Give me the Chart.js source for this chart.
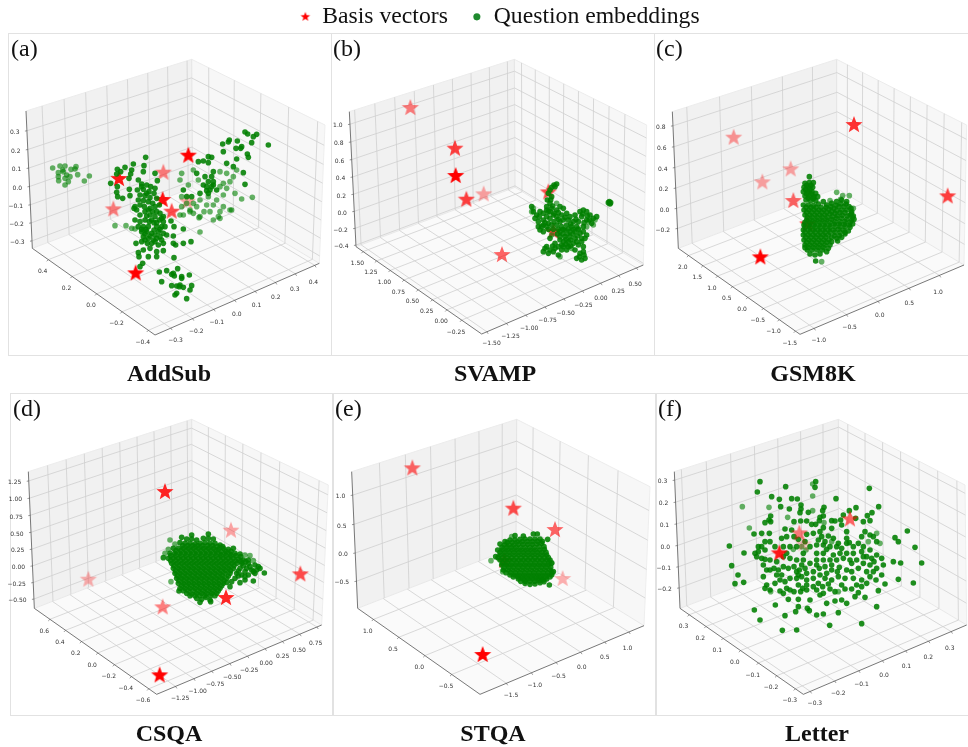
<!DOCTYPE html>
<html>
<head>
<meta charset="utf-8">
<script src="https://cdn.jsdelivr.net/npm/chart.js@4"></script>
<style>
html, body { margin: 0; padding: 0; background: #fff; }
#page { position: relative; width: 968px; height: 747px; overflow: hidden; }
canvas { position: absolute; }
canvas.plot { filter: blur(0.3px); }
.frame { position: absolute; border: 1.5px solid #e2e2e2; box-sizing: border-box; }
.tag { position: absolute; font: 24px "Liberation Serif", serif; color: #111; line-height: 24px; }
.name { position: absolute; font: bold 24px "Liberation Serif", serif; color: #111; transform: translateX(-50%); line-height: 26px; white-space: nowrap; }
</style>
</head>
<body>
<div id="page"></div>
<script>
const starsA = [[565,377],[490,428],[357,447],[488,510],[340,538],[515,545],[562,515],[407,730]];
const starAlphaA = [1,.5,.9,.95,.5,.7,.35,1];
const starsB = [[241,234],[375,356],[377,438],[409,509],[461,493],[655,487],[670,605],[516,675]];
const starAlphaB = [.5,.75,1,.75,.35,.7,.75,.6];
const starsC = [[251,323],[337,457],[422,418],[430,513],[612,285],[893,499],[473,583],[331,682]];
const starAlphaC = [.4,.35,.35,.6,.8,.75,.8,1];
const starsD = [[495,306],[693,422],[901,553],[265,569],[488,652],[678,624],[479,856]];
const starAlphaD = [.85,.35,.7,.3,.5,.85,1];
const starsE = [[247,235],[550,356],[675,420],[698,567],[523,513],[458,795]];
const starAlphaE = [.6,.7,.6,.3,.75,1];
const starsF = [[600,388],[448,430],[460,463],[388,490]];
const starAlphaF = [.6,.5,.2,.9];

const darkA = [[478,726],[500,722],[533,716],[515,733],[523,738],[545,740],[568,735],[485,755],[515,767],[530,768],[540,765],[550,772],[575,767],[570,780],[530,790],[525,795],[560,806],[545,745],[520,730],[538,770],
[437,382],[400,402],[432,407],[375,412],[352,418],[362,425],[395,420],[392,432],[387,445],[430,425],[465,430],[472,452],[350,432],[332,460],[352,470],[350,487],[353,500],[388,478],[390,497],[368,505],[415,450],[425,462],[440,465],[452,470],[465,475],[430,478],[412,480],[447,485],[462,490],[420,495],[435,497],[450,503],[470,505],[415,510],[430,512],[445,515],[458,520],[402,535],[410,540],[420,525],[433,530],[450,535],[465,530],[478,525],[405,570],[420,555],[435,545],[450,555],[465,560],[480,550],[490,560],[420,575],[435,570],[448,575],[462,578],[478,570],[490,575],[415,590],[430,590],[445,590],[470,590],[485,590],[495,590],[425,605],[440,605],[455,610],[475,605],[490,610],[430,620],[445,625],[460,630],[480,620],[500,615],[520,618],[408,640],[425,635],[442,640],[465,635],[490,640],[520,640],[430,660],[450,655],[470,665],[490,662],[415,668],[417,680],[445,680],[470,680],[522,683],[428,700],[420,710],[550,640],[573,635],[527,645],[513,573],[550,597],[522,590],
[425,470],[440,490],[405,530],[445,540],[458,545],[470,545],[440,558],[455,570],[470,578],[485,565],[425,598],[438,598],[462,600],[480,598],[435,612],[465,615],[450,618],[470,625],[485,630],[435,630],[455,640],[475,645],
[735,306],[743,312],[770,313],[760,320],[688,330],[685,336],[712,333],[668,342],[805,345],[725,350],[755,338],[708,355],[722,355],[670,365],[742,372],[745,382],[710,387],[625,380],[635,382],[595,395],[610,393],[625,398],[590,430],[640,425],[615,440],[635,440],[610,465],[625,455],[640,465],[630,480],[650,480],[625,490],[735,463],[730,428],[700,410],[680,400],[600,490],[575,500],[550,480],[560,500],[620,470],[635,470],[620,482],[640,455]];
const fadedA = [[158,414],[180,408],[195,408],[228,410],[213,418],[175,428],[190,425],[210,440],[175,440],[233,434],[195,445],[176,452],[205,455],[195,465],[268,438],[253,453],[188,420],[225,417],[200,435],
[545,430],[580,420],[595,450],[540,450],[565,465],[660,425],[680,430],[700,440],[710,420],[690,455],[670,460],[660,470],[680,475],[705,490],[670,495],[650,510],[625,500],[640,525],[620,525],[670,530],[600,510],[590,530],[580,520],[725,507],[757,502],[690,540],[655,560],[640,570],[600,560],[630,545],[560,520],[545,500],[545,530],[570,540],[550,555],[600,606],[345,587],[378,587],[395,595],[405,597],[540,555],[570,545],[580,550],[597,563],[660,565],[695,540],[660,545],[612,545]];

const darkB = [[838,515],[840,522],[835,518],[842,518],[680,462],[672,465],[665,472],[675,470],[660,480],[655,490],[665,500],[652,510],[660,520],[650,530],[665,535],[660,545],[680,540],[700,535],[690,530],
[605,530],[610,545],[620,555],[630,545],[640,550],[615,565],[625,575],[640,570],[650,560],[660,565],[670,555],[680,560],[695,555],[710,550],[720,560],[735,555],[750,545],[760,540],[770,545],[780,555],[790,565],[800,560],[770,570],[785,580],[755,560],[745,575],[760,590],
[690,575],[700,570],[715,570],[730,575],[680,585],[695,590],[710,585],[725,590],[740,590],[650,590],[665,585],[625,590],[635,590],[640,605],[690,605],[705,600],[720,605],[735,605],[750,610],[770,615],[765,625],[755,635],
[690,620],[705,620],[720,620],[735,625],[700,635],[715,635],[730,640],[675,640],[660,625],[645,655],[660,660],[675,655],[640,665],[655,670],[685,675],[700,650],[715,650],[710,660],[695,660],[745,645],[760,650],[750,670],[740,685],[755,690],[765,685],[760,665],[735,660],
[685,568],[705,562],[722,582],[738,568],[672,575],[685,598],[700,598],[715,597],[730,598],[745,597],[682,612],[698,612],[712,612],[728,612],[742,618],[690,630],[708,628],[722,630],[740,635],[695,645],[708,643],[722,648],[685,650],[670,665],[668,648],[650,650],[655,580],[640,585],[628,560],[645,578],[630,600],[655,545],[672,550],[685,548],[758,552],[772,558],[762,578],[778,570],[755,625],[760,605],[748,680],[762,675],[650,540],[662,510],[668,528],[655,598],[670,598]];
const fadedB = [[775,575],[795,570],[745,600],[690,680],[665,615],[610,535],[770,590],[725,655],[680,520],[605,545],[790,585]];

const darkC = [[478,440],[465,460],[478,458],[490,458],[462,472],[475,472],[488,472],[460,485],[473,485],[486,485],[497,490],[465,498],[478,498],[492,500],[503,500],[468,510],[482,512],[497,512],
[460,525],[475,525],[490,527],[505,522],[520,515],[530,525],[545,520],[560,515],[575,510],[590,515],
[462,540],[477,540],[492,540],[507,540],[522,540],[537,538],[552,535],[567,530],[582,530],[597,530],[605,545],
[465,555],[480,555],[495,555],[510,555],[525,555],[540,552],[555,550],[570,548],[585,548],[600,555],[610,558],
[470,570],[485,570],[500,570],[515,570],[530,570],[545,568],[560,565],[575,565],[590,568],[605,570],[612,568],
[462,585],[478,585],[493,585],[508,585],[523,585],[538,585],[553,582],[568,582],[583,583],[598,585],[608,582],
[460,600],[475,600],[490,600],[505,600],[520,600],[535,600],[550,600],[565,598],[580,600],[595,603],
[460,615],[475,615],[490,615],[505,615],[520,615],[535,615],[553,617],[568,617],[585,612],
[462,630],[477,630],[492,630],[507,630],[522,630],[537,630],[563,633],
[465,645],[480,645],[495,645],[510,645],[525,645],[540,645],
[472,660],[487,660],[502,660],[517,660],[530,665],[480,672],[495,675],[510,672],[497,693],[465,653],
[470,466],[483,466],[467,479],[480,479],[470,492],[485,492],[475,505],[490,506],
[468,532],[483,532],[498,532],[513,532],[528,532],[543,530],[558,526],[573,522],[588,522],[603,535],
[470,547],[485,547],[500,547],[515,547],[530,547],[545,545],[560,542],[575,540],[590,540],[604,550],
[472,562],[487,562],[502,562],[517,562],[532,562],[547,560],[562,558],[577,556],[592,558],[607,562],
[465,577],[480,577],[495,577],[510,577],[525,577],[540,577],[555,575],[570,575],[585,575],[600,577],
[465,592],[480,592],[495,592],[510,592],[525,592],[540,592],[555,590],[570,590],[585,590],[600,592],
[465,607],[480,607],[495,607],[510,607],[525,607],[540,607],[555,607],[570,607],[585,607],
[467,622],[482,622],[497,622],[512,622],[527,622],[545,622],[560,625],[575,622],
[470,637],[485,637],[500,637],[515,637],[530,637],[545,635],
[475,652],[490,652],[505,652],[520,652],[535,655]];
const fadedC = [[515,695],[578,497],[598,497],[560,487],[572,508],[540,512],[610,535]];

const darkD = [[575,435],[625,432],[545,442],[560,447],[575,447],[590,450],[610,445],[625,445],[640,447],
[540,458],[555,460],[570,460],[585,462],[600,460],[615,458],[630,460],[645,460],[660,465],
[520,475],[535,475],[550,475],[565,475],[580,475],[595,475],[610,475],[625,475],[640,475],[655,478],[670,475],[685,478],[700,475],
[490,503],[510,490],[525,490],[540,490],[555,490],[570,490],[585,490],[600,490],[615,490],[630,490],[645,490],[660,492],[675,490],[690,492],[705,490],[720,492],
[505,505],[520,505],[535,505],[550,505],[565,505],[580,505],[595,505],[610,505],[625,505],[640,505],[655,505],[670,505],[685,505],[700,505],[715,507],[730,510],[745,510],
[515,520],[530,520],[545,520],[560,520],[575,520],[590,520],[605,520],[620,520],[635,520],[650,520],[665,520],[680,520],[695,520],[710,520],[725,520],[745,520],[765,525],[775,530],
[520,535],[535,535],[550,535],[565,535],[580,535],[595,535],[610,535],[625,535],[640,535],[655,535],[670,535],[685,535],[700,535],[720,535],[740,535],[755,540],[770,540],[780,535],
[525,550],[540,550],[555,550],[570,550],[585,550],[600,550],[615,550],[630,550],[645,550],[660,550],[675,550],[690,550],[710,550],[725,555],[745,555],[765,550],[793,549],
[530,565],[545,565],[560,565],[575,565],[590,565],[605,565],[620,565],[635,565],[650,565],[665,565],[680,565],[705,565],[720,578],[735,570],[760,573],
[535,580],[550,580],[565,580],[580,580],[595,580],[610,580],[625,580],[640,580],[655,580],[670,580],[690,590],[680,577],
[540,595],[555,595],[570,595],[585,595],[600,595],[615,595],[630,595],[645,595],[660,595],
[560,610],[575,612],[590,610],[605,610],[620,610],[635,610],[650,610],[537,603],[590,625],[605,628],[630,630],[618,622],[600,637],[632,635],
[548,467],[563,467],[578,467],[593,467],[608,467],[623,467],[638,467],[653,470],[668,470],
[528,482],[543,482],[558,482],[573,482],[588,482],[603,482],[618,482],[633,482],[648,482],[663,484],[678,484],[693,484],
[512,497],[527,497],[542,497],[557,497],[572,497],[587,497],[602,497],[617,497],[632,497],[647,497],[662,497],[677,497],[692,497],[707,497],[722,500],
[512,512],[527,512],[542,512],[557,512],[572,512],[587,512],[602,512],[617,512],[632,512],[647,512],[662,512],[677,512],[692,512],[707,513],[722,514],[737,515],
[522,527],[537,527],[552,527],[567,527],[582,527],[597,527],[612,527],[627,527],[642,527],[657,527],[672,527],[687,527],[702,527],[730,527],[750,530],
[527,542],[542,542],[557,542],[572,542],[587,542],[602,542],[617,542],[632,542],[647,542],[662,542],[677,542],[692,542],[715,543],[735,545],[760,545],
[532,557],[547,557],[562,557],[577,557],[592,557],[607,557],[622,557],[637,557],[652,557],[667,557],[685,558],[715,558],[735,560],
[537,572],[552,572],[567,572],[582,572],[597,572],[612,572],[627,572],[642,572],[657,572],[672,572],[695,575],
[545,587],[560,587],[575,587],[590,587],[605,587],[620,587],[635,587],[650,587],[665,587],
[550,602],[565,602],[580,602],[595,602],[610,602],[625,602],[640,602],[655,602],
[570,617],[585,617],[600,617],[615,617],[632,617],[645,617]];
const fadedD = [[510,450],[525,462],[505,478],[735,495],[750,497],[760,512],[513,575],[495,490]];

const darkE = [[653,448],[658,585],[555,437],[580,438],[610,432],[622,432],
[525,455],[540,450],[555,450],[570,448],[585,447],[600,447],[615,447],[630,447],
[510,462],[523,465],[537,465],[551,465],[565,463],[579,463],[593,463],[607,463],[621,462],[635,460],
[503,480],[517,480],[531,480],[545,480],[559,480],[573,480],[587,480],[601,480],[615,480],[629,480],[643,478],
[497,500],[510,495],[524,495],[538,495],[552,495],[566,495],[580,495],[594,495],[608,495],[622,495],[636,495],[650,495],
[510,510],[524,510],[538,510],[552,510],[566,510],[580,510],[594,510],[608,510],[622,510],[636,510],[650,510],[660,510],
[515,525],[529,525],[543,525],[557,525],[571,525],[585,525],[599,525],[613,525],[627,525],[641,525],[655,525],[665,520],
[520,540],[534,540],[548,540],[562,540],[576,540],[590,540],[604,540],[618,540],[632,540],[646,540],[660,540],[670,545],
[540,555],[554,555],[568,555],[582,555],[596,555],[610,555],[624,555],[638,555],[652,555],[665,555],
[565,567],[579,567],[593,567],[607,567],[621,567],[635,567],[650,567],[585,580],[600,583],[615,582],[630,578],[642,575],
[532,457],[547,457],[562,456],[577,455],[592,455],[607,455],[622,454],[637,454],
[516,472],[530,472],[544,472],[558,472],[572,472],[586,472],[600,472],[614,472],[628,470],[642,470],
[510,487],[524,487],[538,487],[552,487],[566,487],[580,487],[594,487],[608,487],[622,487],[636,487],[648,487],
[504,503],[517,503],[531,503],[545,503],[559,503],[573,503],[587,503],[601,503],[615,503],[629,503],[643,503],[655,503],
[517,518],[531,518],[545,518],[559,518],[573,518],[587,518],[601,518],[615,518],[629,518],[643,518],[657,518],
[522,532],[536,532],[550,532],[564,532],[578,532],[592,532],[606,532],[620,532],[634,532],[648,532],[662,532],
[528,548],[542,548],[556,548],[570,548],[584,548],[598,548],[612,548],[626,548],[640,548],[654,548],[666,548],
[550,561],[564,561],[578,561],[592,561],[606,561],[620,561],[634,561],[648,561],[660,561],
[572,574],[586,574],[600,574],[614,574],[628,572],[640,570]];
const fadedE = [[483,512],[545,440],[518,545],[665,518]];

const darkF = [[330,275],[322,306],[407,290],[497,275],[495,292],[365,320],[388,328],[425,326],[442,327],[558,326],[658,295],[392,350],[418,357],[453,345],[453,357],[522,352],[518,362],[598,362],[618,353],[686,350],[362,378],[357,390],[345,398],[362,395],[450,368],[475,367],[510,382],[520,378],[508,392],[580,375],[572,390],[555,393],[545,392],[652,377],[666,368],[660,392],[640,395],[617,385],[432,395],[452,393],[470,393],[485,403],[497,403],[545,415],[575,405],[520,413],[510,425],
[312,432],[335,430],[358,430],[405,417],[425,420],[395,445],[410,440],[432,440],[445,448],[470,433],[490,430],[515,440],[535,438],[550,445],[590,425],[590,445],[598,458],[635,440],[645,425],[660,435],[670,440],[735,443],[772,423],[745,455],[795,472],[815,519],[238,468],[282,489],[245,527],[264,555],[255,581],[281,577],
[325,470],[335,470],[345,455],[360,455],[345,480],[315,490],[320,500],[335,505],[340,525],[360,510],[375,470],[400,470],[420,470],[440,470],[460,490],[480,470],[500,465],[520,465],[540,470],[565,460],[590,460],[625,460],[640,470],[660,480],[680,455],[635,485],[610,490],[590,490],[570,490],[550,495],[520,490],[500,490],[680,495],[695,505],[730,515],[752,519],[745,568],[790,579],[705,582],[695,555],[680,535],[660,525],[640,520],[620,510],[605,520],[580,505],[560,510],[540,510],[520,510],[500,510],[480,520],[460,510],[440,510],[420,505],[400,500],[380,515],
[372,535],[385,540],[400,530],[415,535],[432,530],[448,540],[465,535],[490,545],[508,535],[525,530],[545,540],[568,532],[590,540],[605,545],[625,535],[650,545],[670,545],[340,560],[350,585],[345,595],[375,580],[390,570],[405,575],[420,565],[440,565],[455,560],[470,570],[490,565],[510,555],[525,565],[545,570],[565,560],[585,565],[610,565],[635,570],[660,560],[678,570],
[360,600],[390,603],[420,600],[432,605],[452,605],[470,600],[490,590],[518,590],[540,597],[555,605],[585,597],[605,597],[635,590],[650,580],[685,602],
[313,660],[330,690],[397,721],[440,720],[539,706],[635,701],[680,650],[565,668],[520,672],[500,675],[478,662],[472,655],[445,650],[437,665],[405,677],[376,645],[415,628],[445,628],[480,630],[510,615],[555,633],[575,630],[590,640],[615,620],[645,622],[625,608],[530,640],
[395,555],[360,540],[470,550],[445,585],[470,585],[530,550],[575,585],[500,525],[545,525],[620,585],[465,455],[410,490],[350,540],[560,470],[650,500],[610,470],[440,545],[500,600],[520,610],
[455,525],[445,555],[458,595],[505,580],[535,582],[562,545],[600,510],[640,500],[665,505],[672,515],[700,525],[575,475],[530,478],[505,450],[525,455],[380,555],[410,595],[400,610],[345,508],[325,485]];
const fadedF = [[277,350],[357,352],[298,414],[413,382],[488,282],[488,318],[488,362],[522,398],[690,460],[680,430],[468,480],[455,470],[565,605],[362,605],[430,478],[545,455],[655,455]];

const legendLabels = ['Basis vectors', 'Question embeddings'];
const panelTags = ['(a)', '(b)', '(c)', '(d)', '(e)', '(f)'];
const panelNames = ['AddSub', 'SVAMP', 'GSM8K', 'CSQA', 'STQA', 'Letter'];

const uTicksA = ['0.4', '0.2', '0.0', '−0.2', '−0.4'];
const vTicksA = ['−0.3', '−0.2', '−0.1', '0.0', '0.1', '0.2', '0.3', '0.4'];
const zTicksA = ['−0.3', '−0.2', '−0.1', '0.0', '0.1', '0.2', '0.3'];
const uTicksB = ['1.50', '1.25', '1.00', '0.75', '0.50', '0.25', '0.00', '−0.25'];
const vTicksB = ['−1.50', '−1.25', '−1.00', '−0.75', '−0.50', '−0.25', '0.00', '0.25', '0.50'];
const zTicksB = ['−0.4', '−0.2', '0.0', '0.2', '0.4', '0.6', '0.8', '1.0'];
const uTicksC = ['2.0', '1.5', '1.0', '0.5', '0.0', '−0.5', '−1.0', '−1.5'];
const vTicksC = ['−1.0', '−0.5', '0.0', '0.5', '1.0'];
const zTicksC = ['−0.2', '0.0', '0.2', '0.4', '0.6', '0.8'];
const uTicksD = ['0.6', '0.4', '0.2', '0.0', '−0.2', '−0.4', '−0.6'];
const vTicksD = ['−1.25', '−1.00', '−0.75', '−0.50', '−0.25', '0.00', '0.25', '0.50', '0.75'];
const zTicksD = ['−0.50', '−0.25', '0.00', '0.25', '0.50', '0.75', '1.00', '1.25'];
const uTicksE = ['1.0', '0.5', '0.0', '−0.5'];
const vTicksE = ['−1.5', '−1.0', '−0.5', '0.0', '0.5', '1.0'];
const zTicksE = ['−0.5', '0.0', '0.5', '1.0'];
const uTicksF = ['0.3', '0.2', '0.1', '0.0', '−0.1', '−0.2', '−0.3'];
const vTicksF = ['−0.3', '−0.2', '−0.1', '0.0', '0.1', '0.2', '0.3'];
const zTicksF = ['−0.2', '−0.1', '0.0', '0.1', '0.2', '0.3'];

// cube corners on the picture and where the first/last tick sit along each edge
const panels = [
  { crop: [0, 30, 332, 330], frame: [8, 33, 324, 323], tag: [11, 36], name: [169, 360], stars: starsA, alpha: starAlphaA, dark: darkA, faded: fadedA,
    L: [78,243], B: [575,88], R: [975,285], Lb: [97,655], Bb: [578,473], Rb: [958,700], F: [465,915],
    u: uTicksA, v: vTicksA, z: zTicksA, uR: [.14,.95], vR: [.09,.97], zR: [.056,.86] },
  { crop: [330, 30, 325, 330], frame: [331, 33, 324, 323], tag: [333, 36], name: [495, 360], stars: starsB, alpha: starAlphaB, dark: darkB, faded: fadedB,
    L: [58,245], B: [553,88], R: [950,285], Lb: [78,650], Bb: [555,472], Rb: [940,705], F: [455,912],
    u: uTicksB, v: vTicksB, z: zTicksB, uR: [.06,.85], vR: [.03,.955], zR: [.012,.91] },
  { crop: [650, 30, 318, 330], frame: [654, 33, 316, 323], tag: [656, 36], name: [813, 360], stars: starsC, alpha: starAlphaC, dark: darkC, faded: fadedC,
    L: [67,245], B: [560,88], R: [950,285], Lb: [85,655], Bb: [560,475], Rb: [942,705], F: [450,913],
    u: uTicksC, v: vTicksC, z: zTicksC, uR: [.09,.965], vR: [.082,.843], zR: [.15,.9] },
  { crop: [0, 390, 335, 330], frame: [10, 393, 323, 323], tag: [13, 396], name: [169, 720], stars: starsD, alpha: starAlphaD, dark: darkD, faded: fadedD,
    L: [85,245], B: [575,88], R: [985,285], Lb: [103,655], Bb: [578,472], Rb: [965,705], F: [470,913],
    u: uTicksD, v: vTicksD, z: zTicksD, uR: [.136,.94], vR: [.11,.97], zR: [.07,.934] },
  { crop: [330, 390, 328, 330], frame: [333, 393, 323, 323], tag: [335, 396], name: [493, 720], stars: starsE, alpha: starAlphaE, dark: darkE, faded: fadedE,
    L: [65,245], B: [560,88], R: [960,290], Lb: [83,655], Bb: [558,470], Rb: [942,707], F: [450,913],
    u: uTicksE, v: vTicksE, z: zTicksE, uR: [.136,.78], vR: [.156,.905], zR: [.205,.834] },
  { crop: [650, 390, 318, 330], frame: [656, 393, 314, 323], tag: [658, 396], name: [817, 720], stars: starsF, alpha: starAlphaF, dark: darkF, faded: fadedF, starsBelow: true,
    L: [73,245], B: [565,88], R: [945,285], Lb: [90,655], Bb: [565,475], Rb: [950,705], F: [460,913],
    u: uTicksF, v: vTicksF, z: zTicksF, uR: [.08,.94], vR: [.04,.9], zR: [.154,.94] }
];

const page = document.getElementById('page');

const toPoints = (list) => list.map(p => ({ x: p[0], y: p[1] }));

// five pointed star as an image so it can be used as a pointStyle
const makeStar = (alpha, r) => {
  const c = document.createElement('canvas');
  c.width = c.height = Math.ceil(r * 2 + 2);
  const g = c.getContext('2d');
  g.fillStyle = 'rgba(255,0,0,' + alpha + ')';
  g.beginPath();
  for (let i = 0; i < 10; i++) {
    const rad = i % 2 ? r * 0.42 : r;
    const a = -Math.PI / 2 + i * Math.PI / 5;
    g.lineTo(c.width / 2 + rad * Math.cos(a), c.height / 2 + rad * Math.sin(a));
  }
  g.closePath();
  g.fill();
  return c;
};

// unit square -> quad, so the grid gets the perspective of the panes
const quadMap = (p00, p10, p11, p01) => {
  const dx1 = p10[0] - p11[0], dx2 = p01[0] - p11[0], sx = p00[0] - p10[0] + p11[0] - p01[0];
  const dy1 = p10[1] - p11[1], dy2 = p01[1] - p11[1], sy = p00[1] - p10[1] + p11[1] - p01[1];
  const den = dx1 * dy2 - dx2 * dy1;
  const g = (sx * dy2 - dx2 * sy) / den, h = (dx1 * sy - sx * dy1) / den;
  const a = p10[0] - p00[0] + g * p10[0], b = p01[0] - p00[0] + h * p01[0];
  const d = p10[1] - p00[1] + g * p10[1], e = p01[1] - p00[1] + h * p01[1];
  return (s, t) => {
    const w = g * s + h * t + 1;
    return [(a * s + b * t + p00[0]) / w, (d * s + e * t + p00[1]) / w];
  };
};

const tickAt = (range, i, n) => range[0] + (range[1] - range[0]) * i / (n - 1);

const cubePlugin = {
  id: 'cube',
  beforeDatasetsDraw(chart, args, p) {
    const ctx = chart.ctx;
    const X = v => chart.scales.x.getPixelForValue(v);
    const Y = v => chart.scales.y.getPixelForValue(v);
    const poly = (pts, fill) => {
      ctx.beginPath();
      pts.forEach(q => ctx.lineTo(X(q[0]), Y(q[1])));
      ctx.closePath();
      ctx.fillStyle = fill;
      ctx.fill();
    };
    const seg = (a, b, color, w) => {
      ctx.beginPath();
      ctx.moveTo(X(a[0]), Y(a[1]));
      ctx.lineTo(X(b[0]), Y(b[1]));
      ctx.strokeStyle = color;
      ctx.lineWidth = w;
      ctx.stroke();
    };
    const left = quadMap(p.Lb, p.Bb, p.B, p.L);
    const right = quadMap(p.Bb, p.Rb, p.R, p.B);
    const floor = quadMap(p.Lb, p.F, p.Rb, p.Bb);
    ctx.save();
    poly([p.L, p.B, p.Bb, p.Lb], '#f1f1f1');
    poly([p.B, p.R, p.Rb, p.Bb], '#f7f7f7');
    poly([p.Lb, p.Bb, p.Rb, p.F], '#fafafa');
    seg(p.L, p.B, '#ececec', 1);
    seg(p.B, p.R, '#ececec', 1);
    seg(p.B, p.Bb, '#e4e4e4', 1);
    seg(p.Lb, p.Bb, '#e8e8e8', 1);
    seg(p.Bb, p.Rb, '#e8e8e8', 1);
    seg(p.R, p.Rb, '#eeeeee', 1);

    const grid = '#cfcfcf';
    ctx.font = '6px "DejaVu Sans"';
    ctx.fillStyle = '#333';
    const ink = '#555';
    p.u.forEach((label, i) => {
      const s = tickAt(p.uR, i, p.u.length);
      seg(floor(s, 0), floor(s, 1), grid, .8);
      seg(right(s, 0), right(s, 1), grid, .8);
      const q = floor(s, 0);
      seg(q, [q[0] - 5, q[1] + 5], ink, .6);
      ctx.fillStyle = '#333';
      ctx.textAlign = 'center';
      ctx.textBaseline = 'middle';
      ctx.fillText(label, X(q[0] - 17), Y(q[1] + 36));
    });
    p.v.forEach((label, i) => {
      const s = tickAt(p.vR, i, p.v.length);
      const q = floor(1, s);
      const t = i / (p.v.length - 1);
      seg(floor(1, s), floor(0, s), grid, .8);
      seg(left(s, 0), left(s, 1), grid, .8);
      seg(q, [q[0] + 4, q[1] + 6], ink, .6);
      ctx.fillStyle = '#333';
      ctx.textAlign = 'center';
      ctx.textBaseline = 'middle';
      ctx.fillText(label, X(q[0] + 14 - 18 * t), Y(q[1] + 36 + 14 * t));
    });
    p.z.forEach((label, i) => {
      const s = tickAt(p.zR, i, p.z.length);
      seg(left(0, s), left(1, s), grid, .8);
      seg(right(0, s), right(1, s), grid, .8);
      const q = left(0, s);
      seg(q, [q[0] - 6, q[1] + 1], ink, .6);
      ctx.fillStyle = '#333';
      ctx.textAlign = 'right';
      ctx.textBaseline = 'middle';
      ctx.fillText(label, X(q[0] - 22), Y(q[1] + 5));
    });
    seg(p.L, p.Lb, '#555', .8);
    seg(p.Lb, p.F, '#555', .8);
    seg(p.F, p.Rb, '#555', .8);
    ctx.restore();
  }
};

panels.forEach(p => {
  const frame = document.createElement('div');
  frame.className = 'frame';
  frame.style.cssText = `left:${p.frame[0]}px;top:${p.frame[1]}px;width:${p.frame[2]}px;height:${p.frame[3]}px`;
  page.appendChild(frame);
});

panels.forEach((p, i) => {
  const canvas = document.createElement('canvas');
  canvas.className = 'plot';
  canvas.width = p.crop[2];
  canvas.height = p.crop[3];
  canvas.style.left = p.crop[0] + 'px';
  canvas.style.top = p.crop[1] + 'px';
  page.appendChild(canvas);

  const stars = {
    data: toPoints(p.stars),
    pointStyle: p.alpha.map(a => makeStar(a, 9)),
    pointRadius: 9,
    showLine: false
  };
  const faded = {
    data: toPoints(p.faded),
    pointStyle: 'circle',
    pointRadius: 2.8,
    borderWidth: 0,
    backgroundColor: 'rgba(0,128,0,0.6)'
  };
  const dark = {
    data: toPoints(p.dark),
    pointStyle: 'circle',
    pointRadius: 2.8,
    borderWidth: 0,
    backgroundColor: 'rgba(0,128,0,0.88)'
  };

  new Chart(canvas.getContext('2d'), {
    type: 'scatter',
    data: { datasets: p.starsBelow ? [stars, faded, dark] : [faded, dark, stars] },
    options: {
      responsive: false,
      animation: false,
      layout: { padding: 0, autoPadding: false },
      events: [],
      plugins: { legend: { display: false }, tooltip: { enabled: false }, cube: p },
      scales: {
        x: { display: false, min: 0, max: p.crop[2] * 3 },
        y: { display: false, min: 0, max: p.crop[3] * 3, reverse: true }
      }
    },
    plugins: [cubePlugin]
  });

  const tag = document.createElement('div');
  tag.className = 'tag';
  tag.textContent = panelTags[i];
  tag.style.left = p.tag[0] + 'px';
  tag.style.top = p.tag[1] + 'px';
  page.appendChild(tag);

  const name = document.createElement('div');
  name.className = 'name';
  name.textContent = panelNames[i];
  name.style.left = p.name[0] + 'px';
  name.style.top = p.name[1] + 'px';
  page.appendChild(name);
});

// legend on its own little chart, tall enough that the legend box is not squeezed
const legendCanvas = document.createElement('canvas');
legendCanvas.width = 500;
legendCanvas.height = 130;
legendCanvas.style.left = '250px';
legendCanvas.style.top = '-19px';
page.appendChild(legendCanvas);
new Chart(legendCanvas.getContext('2d'), {
  type: 'scatter',
  data: {
    datasets: [
      { label: legendLabels[0], data: [], pointStyle: makeStar(1, 5), backgroundColor: '#f00' },
      { label: legendLabels[1], data: [], pointStyle: 'circle', backgroundColor: '#1f8a2e', borderWidth: 0 }
    ]
  },
  options: {
    responsive: false,
    animation: false,
    events: [],
    layout: { autoPadding: false },
    plugins: {
      tooltip: { enabled: false },
      legend: {
        position: 'top',
        labels: {
          usePointStyle: true,
          boxWidth: 10,
          boxHeight: 5,
          padding: 24,
          color: '#111',
          font: { family: '"Liberation Serif"', size: 23.7 }
        }
      }
    },
    scales: { x: { display: false }, y: { display: false } }
  }
});
</script>
</body>
</html>
